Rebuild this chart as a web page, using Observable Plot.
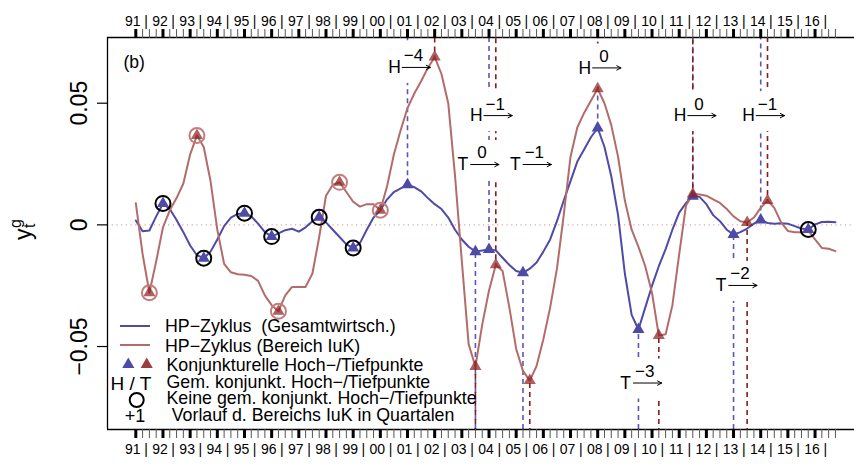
<!DOCTYPE html>
<html><head><meta charset="utf-8">
<script src="https://cdn.jsdelivr.net/npm/d3@7"></script>
<script src="https://cdn.jsdelivr.net/npm/@observablehq/plot@0.6"></script>
<style>
body{margin:0;background:#fff;}
#chart svg{font-family:"Liberation Sans",Arial,Helvetica,sans-serif;}
</style>
</head><body><div id="chart"></div>
<script>
// ---------- data (quarterly, 1991Q1 .. 2016Q4) ----------
const startYear = 1991;
const gesamt = [
 0.0018,-0.0026,-0.0023,0.0035, 0.0088,0.0065,0.0020,-0.0030,
 -0.0085,-0.0125,-0.0137,-0.0110, -0.0060,-0.0005,0.0030,0.0045,
 0.0048,0.0035,0.0005,-0.0030, -0.0048,-0.0035,-0.0022,-0.0016,
 -0.0028,-0.0010,0.0015,0.0031, 0.0010,-0.0020,-0.0050,-0.0080,
 -0.0095,-0.0075,-0.0020,0.0030, 0.0060,0.0105,0.0135,0.0150,
 0.0165,0.0155,0.0138,0.0110, 0.0085,0.0065,0.0030,-0.0020,
 -0.0060,-0.0090,-0.0110,-0.0105, -0.0101,-0.0105,-0.0135,-0.0165,
 -0.0190,-0.0197,-0.0180,-0.0155, -0.0110,-0.0060,0.0015,0.0100,
 0.0180,0.0260,0.0310,0.0360, 0.0398,0.0320,0.0200,0.0040,
 -0.0200,-0.0370,-0.0430,-0.0340, -0.0250,-0.0170,-0.0100,-0.0020,
 0.0050,0.0090,0.0118,0.0115, 0.0085,0.0040,0.0015,-0.0020,
 -0.0040,-0.0030,-0.0015,0.0005, 0.0020,0.0008,0.0005,0.0007,
 0.0005,-0.0005,-0.0015,-0.0019, 0.0002,0.0012,0.0013,0.0011
];
const iuk = [
 0.0089,-0.0120,-0.0279,-0.0150, -0.0010,0.0060,0.0110,0.0170,
 0.0290,0.0367,0.0320,0.0180, -0.0020,-0.0160,-0.0195,-0.0203,
 -0.0205,-0.0210,-0.0230,-0.0290, -0.0330,-0.0355,-0.0290,-0.0255,
 -0.0255,-0.0255,-0.0200,-0.0050, 0.0120,0.0165,0.0175,0.0135,
 0.0095,0.0075,0.0085,0.0085, 0.0060,0.0160,0.0290,0.0390,
 0.0480,0.0540,0.0590,0.0645, 0.0690,0.0620,0.0500,0.0200,
 -0.0150,-0.0490,-0.0582,-0.0410, -0.0270,-0.0164,-0.0190,-0.0340,
 -0.0510,-0.0600,-0.0640,-0.0580, -0.0470,-0.0340,-0.0180,0.0040,
 0.0280,0.0400,0.0460,0.0510, 0.0559,0.0500,0.0410,0.0280,
 0.0100,-0.0020,-0.0090,-0.0170, -0.0280,-0.0455,-0.0450,-0.0330,
 -0.0120,0.0080,0.0127,0.0125, 0.0120,0.0105,0.0090,0.0065,
 0.0035,0.0015,0.0010,0.0030, 0.0070,0.0100,0.0070,0.0010,
 -0.0025,-0.0030,-0.0030,-0.0023, -0.0060,-0.0095,-0.0098,-0.0108
];

// turning points
const gesamtTurnDates  = [1992,1993.5,1995,1996,1997.75,1999,2001,2003.5,2004,2005.25,2008,2009.5,2011.5,2013,2014,2015.75];
const gesamtTurnType   = ["P","T","P","T","P","T","P","T","P","T","P","T","P","T","P","T"];
const gesamtTurnCommon = [0,0,0,0,0,0,1,1,1,1,1,1,1,1,1,0];
const iukTurnDates  = [1991.5,1993.25,1996.25,1998.5,2000,2002,2003.5,2004.25,2005.5,2008,2010.25,2011.5,2013.5,2014.25];
const iukTurnType   = ["T","P","T","P","T","P","T","P","T","P","T","P","T","P"];
const iukTurnCommon = [0,0,0,0,0,1,1,1,1,1,1,1,1,1];

// annotations (common turning points, lead of IuK in quarters)
const annLetter = ["H","T","H","T","H","T","H","T","H"];
const annLead   = ["\u22124","0","\u22121","\u22121","0","\u22123","0","\u22122","\u22121"];
const annX      = [2000.52,2003.04,2003.53,2004.97,2007.53,2009.03,2011.03,2012.54,2013.55];
const annY      = [0.0647,0.0248,0.0449,0.0248,0.0645,-0.0650,0.0449,-0.0249,0.0449];

// axis labels
const yearLabels = ["91","92","93","94","95","96","97","98","99","00","01","02","03","04","05","06","07","08","09","10","11","12","13","14","15","16"];
const yTicks = [-0.05, 0, 0.05];
const yTickLabels = ["\u22120.05","0","0.05"];

const legendLabels = [
 "HP\u2212Zyklus  (Gesamtwirtsch.)",
 "HP\u2212Zyklus (Bereich IuK)",
 "Konjunkturelle Hoch\u2212/Tiefpunkte",
 "Gem. konjunkt. Hoch\u2212/Tiefpunkte",
 "Keine gem. konjunkt. Hoch\u2212/Tiefpunkte",
 "Vorlauf d. Bereichs IuK in Quartalen"
];

// ---------- derived tables ----------
const W = 854, H = 464, mL = 107, mR = 0, mT = 37, mB = 35;
const xDom = [1989.958, 2017.452];
const yDom = [-0.0841, 0.0770];
const kx = (W - mL - mR) / (xDom[1] - xDom[0]);   // px per year
const ky = (H - mT - mB) / (yDom[1] - yDom[0]);   // px per unit

const toRows = s => s.map((v, i) => ({t: startYear + i / 4, v}));
const gRows = toRows(gesamt), iRows = toRows(iuk);
const valAt = (s, t) => s[Math.round((t - startYear) * 4)];
const mkTP = (dates, types, common, s) => dates.map((t, i) => ({t, v: valAt(s, t), type: types[i], common: common[i]}));
const gTP = mkTP(gesamtTurnDates, gesamtTurnType, gesamtTurnCommon, gesamt);
const iTP = mkTP(iukTurnDates, iukTurnType, iukTurnCommon, iuk);
const ann = annLetter.map((l, i) => ({l, lead: annLead[i], x: annX[i], y: annY[i]}));

const quarters = d3.range(0, 104).map(i => startYear + i / 4);
const years = d3.range(0, 26).map(i => startYear + i);
const ylab = yearLabels.map((s, i) => ({s, t: startYear + i}));

const BLUE = "#4E4AA6", RED = "#B36C6C", DRED = "#8B1C1C", BDASH = "#5A57B5";

const dashRule = (rows, color, offset) => Plot.ruleX(rows.filter(d => d.common), {
  x: "t",
  y1: d => d.type === "P" ? d.v : yDom[0],
  y2: d => d.type === "P" ? yDom[1] : d.v,
  stroke: color, strokeWidth: 1.6, strokeDasharray: "5,4", strokeDashoffset: offset
});

const chart = Plot.plot({
  width: W, height: H,
  marginLeft: mL, marginRight: mR, marginTop: mT, marginBottom: mB,
  x: {domain: xDom, axis: null},
  y: {domain: yDom, axis: null},
  style: {fontFamily: "'Liberation Sans', Arial, Helvetica, sans-serif", background: "#fff", color: "#000"},
  marks: [
    Plot.ruleY([0], {stroke: "#E2A2A2", strokeWidth: 1.2, strokeDasharray: "1.2,3.5"}),
    dashRule(gTP, BDASH, 0),
    dashRule(iTP, DRED, 4),
    // blank boxes behind annotation labels
    Plot.rect(ann, {
      x1: d => d.x - 8 / kx, x2: d => d.x + 38 / kx,
      y1: d => d.y - 16 / ky, y2: d => d.y + 24 / ky,
      fill: "white"
    }),
    Plot.line(gRows, {x: "t", y: "v", stroke: BLUE, strokeWidth: 2}),
    Plot.line(iRows, {x: "t", y: "v", stroke: RED, strokeWidth: 2}),
    // markers
    Plot.dot(gTP, {x: "t", y: "v", symbol: "triangle", r: 4.5, fill: BLUE}),
    Plot.dot(iTP, {x: "t", y: "v", symbol: "triangle", r: 4.5, fill: DRED, fillOpacity: 0.7}),
    Plot.dot(gTP.filter(d => !d.common), {x: "t", y: "v", r: 7.5, stroke: "#000", strokeWidth: 2}),
    Plot.dot(iTP.filter(d => !d.common), {x: "t", y: "v", r: 7.5, stroke: "#C27E7E", strokeWidth: 2}),
    // annotations
    Plot.text(ann, {x: "x", y: "y", text: "l", fontSize: 17.5, fill: "#000"}),
    Plot.arrow(ann, {x1: d => d.x + 7.7 / kx, x2: d => d.x + 36 / kx, y1: "y", y2: "y",
      stroke: "#000", strokeWidth: 1, headLength: 7, headAngle: 55}),
    Plot.text(ann, {x: "x", y: "y", text: "lead", dx: 19, dy: -11.5, fontSize: 17, fill: "#000"}),
    // frame (left, top, bottom)
    Plot.ruleX([xDom[0]], {stroke: "#000", strokeWidth: 1.3}),
    Plot.ruleY([yDom[0], yDom[1]], {stroke: "#000", strokeWidth: 1.3}),
    // x ticks top & bottom
    Plot.axisX(quarters, {anchor: "top", tickSize: 9, tickFormat: () => "", stroke: "#555", strokeWidth: 1, label: null}),
    Plot.axisX(quarters, {anchor: "bottom", tickSize: 9, tickFormat: () => "", stroke: "#555", strokeWidth: 1, label: null}),
    Plot.axisX(years, {anchor: "top", tickSize: 9, tickFormat: () => "", stroke: "#000", strokeWidth: 3, label: null}),
    Plot.axisX(years, {anchor: "bottom", tickSize: 9, tickFormat: () => "", stroke: "#000", strokeWidth: 3, label: null}),
    // x labels
    Plot.text(ylab, {x: "t", text: "s", frameAnchor: "top", dy: -21, dx: -3, fontSize: 14, fill: "#000"}),
    Plot.text(ylab, {x: d => d.t + 0.5, text: () => "|", frameAnchor: "top", dy: -21, dx: -3.4, fontSize: 14, fill: "#000"}),
    Plot.text(ylab, {x: "t", text: "s", frameAnchor: "bottom", dy: 24, dx: -3, fontSize: 14, fill: "#000"}),
    Plot.text(ylab, {x: d => d.t + 0.5, text: () => "|", frameAnchor: "bottom", dy: 24, dx: -3.4, fontSize: 14, fill: "#000"}),
    // y ticks & labels
    Plot.axisY(yTicks, {anchor: "left", tickSize: 10, tickFormat: () => "", stroke: "#000", strokeWidth: 1.2, label: null}),
    Plot.text(yTicks, {y: d => d, text: (d, i) => yTickLabels[i], frameAnchor: "left", dx: -21, rotate: -90,
      lineAnchor: "bottom", textAnchor: "middle", fontSize: 23, fill: "#000"}),
    // panel tag
    Plot.text(["(b)"], {frameAnchor: "top-left", dx: 16, dy: 18, textAnchor: "start", fontSize: 17.5, fill: "#000"})
  ]
});

// ---------- y title and legend ----------
const svg = d3.select(chart);
const yt = svg.append("text").attr("transform", "translate(31,240) rotate(-90)")
  .attr("text-anchor", "start").attr("font-size", 23).attr("fill", "#000");
yt.append("tspan").text("y");
yt.append("tspan").attr("x", 12).attr("dy", -10).attr("font-size", 16).text("g");
yt.append("tspan").attr("x", 12).attr("dy", 14).attr("font-size", 16).text("t");

const lg = svg.append("g").attr("font-size", 17.8).attr("fill", "#000").attr("text-anchor", "start");
lg.append("line").attr("x1", 120).attr("x2", 150).attr("y1", 326).attr("y2", 326).attr("stroke", BLUE).attr("stroke-width", 2);
lg.append("line").attr("x1", 120).attr("x2", 150).attr("y1", 345).attr("y2", 345).attr("stroke", RED).attr("stroke-width", 2);
const tri = d3.symbol(d3.symbolTriangle, Math.PI * 4.5 * 4.5)();
lg.append("path").attr("d", tri).attr("transform", "translate(128.3,364.5)").attr("fill", BLUE);
lg.append("path").attr("d", tri).attr("transform", "translate(146.7,364.5)").attr("fill", DRED).attr("fill-opacity", 0.85);
lg.append("text").attr("x", 131).attr("y", 390).attr("text-anchor", "middle").attr("font-size", 19).text("H / T");
lg.append("circle").attr("cx", 136.7).attr("cy", 400).attr("r", 7).attr("fill", "none").attr("stroke", "#000").attr("stroke-width", 2);
lg.append("text").attr("x", 135).attr("y", 421.5).attr("text-anchor", "middle").attr("font-size", 18).text("+1");
const lx = [165, 165, 166.5, 166.5, 166.5, 171.7];
const ly = [331.7, 351.7, 370.7, 387.7, 404.3, 421];
legendLabels.forEach((s, i) => lg.append("text").attr("x", lx[i]).attr("y", ly[i]).attr("text-anchor", "start").text(s));

document.getElementById("chart").appendChild(chart);
</script>
</body></html>
